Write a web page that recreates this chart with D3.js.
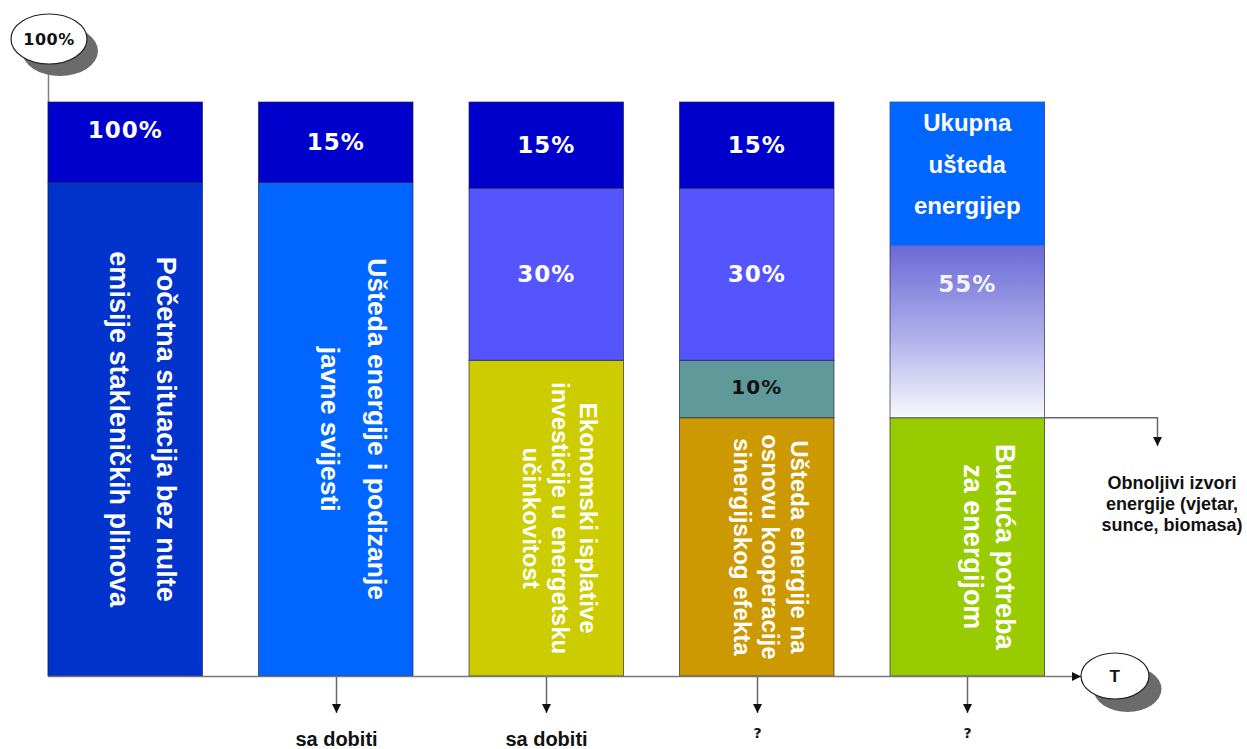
<!DOCTYPE html>
<html>
<head>
<meta charset="utf-8">
<script src="https://cdn.jsdelivr.net/npm/d3@7"></script>
<style>
  body { margin: 0; background: #ffffff; }
  svg { display: block; }
</style>
</head>
<body>
<svg id="chart" width="1247" height="749"></svg>
<script>
// Stages on the way to a zero-emission energy system
const stages = ["Početna situacija", "Javna svijest", "Isplative investicije", "Sinergijski efekt", "Obnovljivi izvori"];

// Stacked shares per stage, bottom to top, in % of the starting demand
const baseShare      = [86, 86, 55, 45, 45];
const synergyShare   = [0, 0, 0, 10, 0];
const investShare    = [0, 0, 30, 30, 0];
const awarenessShare = [14, 14, 15, 15, 0];
const savingsShare   = [0, 0, 0, 0, 55];
const savingsTitleShare = 25;   // upper part of the savings column that carries its title

// Labels written on the segments
const awarenessLabels = ["100%", "15%", "15%", "15%", null];
const investLabels    = [null, null, "30%", "30%", null];
const synergyLabels   = [null, null, null, "10%", null];
const savingsLabels   = [null, null, null, null, "55%"];

const baseTexts = [
  ["Početna situacija bez nulte", "emisije stakleničkih plinova"],
  ["Ušteda energije i podizanje", "javne svijesti"],
  ["Ekonomski isplative", "investicije u energetsku", "učinkovitost"],
  ["Ušteda energije na", "osnovu kooperacije", "sinergijskog efekta"],
  ["Buduća potreba", "za energijom"]
];
const savingsTitle   = ["Ukupna", "ušteda", "energijep"];
const outcomeLabels  = [null, "sa dobiti", "sa dobiti", "?", "?"];
const renewableNote  = ["Obnoljivi izvori", "energije (vjetar,", "sunce, biomasa)"];
const startLabel = "100%";
const timeLabel  = "T";

// ---- styling ----
const baseColors = ["#0033CC", "#0066FF", "#CCCC00", "#CC9900", "#99CC00"];
const segColors = { synergy: "#5F9999", invest: "#5555FF", awareness: "#0000CC" };
const baseTextStyle = [
  { size: 27, lh: 47, shift: 32 },
  { size: 26.5, lh: 47, shift: 32 },
  { size: 24, lh: 28.5, shift: 34 },
  { size: 24, lh: 28.5, shift: 34 },
  { size: 27, lh: 32, shift: 28.5 }
];
const awarenessNudge = [-12, 0, 0, 0, 0];
const ARIAL = "'Liberation Sans', Arial, sans-serif";
const VERDANA = "'DejaVu Sans', Verdana, sans-serif";

const svg = d3.select("#chart");

const x = d3.scaleBand().domain(stages).range([48, 1044.5]).paddingInner(0.266).paddingOuter(0);
const y = d3.scaleLinear().domain([0, 100]).range([676, 102]);
const bw = x.bandwidth();

const rows = stages.map((s, i) => ({
  stage: s, i,
  base: baseShare[i], synergy: synergyShare[i], invest: investShare[i],
  awareness: awarenessShare[i], savings: savingsShare[i]
}));
const keys = ["base", "synergy", "invest", "awareness", "savings"];
const series = d3.stack().keys(keys)(rows);

// defs: arrow marker and savings gradient
const defs = svg.append("defs");
defs.append("marker")
  .attr("id", "arrow").attr("viewBox", "0 0 10 10")
  .attr("markerUnits", "userSpaceOnUse")
  .attr("markerWidth", 9).attr("markerHeight", 10)
  .attr("refX", 10).attr("refY", 5).attr("orient", "auto")
  .append("path").attr("d", "M0,0 L10,5 L0,10 Z").attr("fill", "#111");

const savingsTop = savingsShare[4] + baseShare[4] - savingsTitleShare;
const grad = defs.append("linearGradient")
  .attr("id", "savingsGrad").attr("gradientUnits", "userSpaceOnUse")
  .attr("x1", 0).attr("x2", 0)
  .attr("y1", y(savingsTop)).attr("y2", y(baseShare[4]));
grad.append("stop").attr("offset", 0).attr("stop-color", "#6A6AD6");
grad.append("stop").attr("offset", 0.5).attr("stop-color", "#ABABEA");
grad.append("stop").attr("offset", 1).attr("stop-color", "#F8F8FC");

// vertical guide from the start marker down to the time axis
svg.append("line")
  .attr("x1", 48.5).attr("x2", 48.5).attr("y1", 60).attr("y2", 676)
  .attr("stroke", "#808080").attr("stroke-width", 1.5);

// stacked segments
const layer = svg.append("g");
series.forEach(s => {
  layer.selectAll(null)
    .data(s.filter(d => d[1] - d[0] > 0))
    .join("rect")
    .attr("x", d => x(d.data.stage))
    .attr("y", d => y(d[1]))
    .attr("width", bw)
    .attr("height", d => y(d[0]) - y(d[1]))
    .attr("fill", d => s.key === "base" ? baseColors[d.data.i]
                     : s.key === "savings" ? "url(#savingsGrad)"
                     : segColors[s.key])
    .attr("stroke", "rgba(30,30,60,0.65)")
    .attr("stroke-width", 1);
});

// title block over the top of the savings column
svg.append("rect")
  .attr("x", x(stages[4])).attr("width", bw)
  .attr("y", y(100)).attr("height", y(100 - savingsTitleShare) - y(100))
  .attr("fill", "#0066FF");

// time axis with arrow to the T marker
svg.append("line")
  .attr("x1", 48).attr("x2", 1081).attr("y1", 676.5).attr("y2", 676.5)
  .attr("stroke", "#777").attr("stroke-width", 1.5)
  .attr("marker-end", "url(#arrow)");

// percent labels in the segments
function pctLabel(cx, cy, text, size, color) {
  svg.append("text")
    .attr("x", cx).attr("y", cy + size * 0.36)
    .attr("text-anchor", "middle")
    .attr("font-family", VERDANA).attr("font-weight", "bold")
    .attr("font-size", size).attr("letter-spacing", 1)
    .attr("fill", color).text(text);
}
const seg = key => series.find(s => s.key === key);
stages.forEach((st, i) => {
  const cx = x(st) + bw / 2;
  if (awarenessLabels[i]) {
    const d = seg("awareness")[i];
    pctLabel(cx, (y(d[0]) + y(d[1])) / 2 + awarenessNudge[i], awarenessLabels[i], 23, "#FFFFFF");
  }
  if (investLabels[i]) {
    const d = seg("invest")[i];
    pctLabel(cx, (y(d[0]) + y(d[1])) / 2, investLabels[i], 23, "#FFFFFF");
  }
  if (synergyLabels[i]) {
    const d = seg("synergy")[i];
    pctLabel(cx, (y(d[0]) + y(d[1])) / 2 - 2, synergyLabels[i], 20, "#111111");
  }
  if (savingsLabels[i]) {
    pctLabel(cx, y(savingsTop) + 38, savingsLabels[i], 23, "#F4F4FF");
  }
});

// rotated descriptions inside the base segments
stages.forEach((st, i) => {
  const d = seg("base")[i];
  const cx = x(st) + bw / 2;
  const cy = (y(d[0]) + y(d[1])) / 2;
  const ts = baseTextStyle[i];
  const g = svg.append("g").attr("transform", `translate(${cx + ts.shift},${cy}) rotate(90)`);
  baseTexts[i].forEach((line, k) => {
    g.append("text")
      .attr("x", 0).attr("y", k * ts.lh)
      .attr("text-anchor", "middle")
      .attr("font-family", ARIAL).attr("font-weight", "bold")
      .attr("font-size", ts.size)
      .attr("fill", "#FFFFFF").text(line);
  });
});

// title of the savings column
{
  const cx = x(stages[4]) + bw / 2;
  const cy = (y(100) + y(100 - savingsTitleShare)) / 2;
  savingsTitle.forEach((line, k) => {
    svg.append("text")
      .attr("x", cx).attr("y", cy - 1 + (k - 1) * 41.5)
      .attr("text-anchor", "middle")
      .attr("font-family", ARIAL).attr("font-weight", "bold")
      .attr("font-size", 24).attr("fill", "#FFFFFF").text(line);
  });
}

// outcome arrows below the axis
stages.forEach((st, i) => {
  if (!outcomeLabels[i]) return;
  const cx = Math.round(x(st) + bw / 2) + 0.5;
  svg.append("line")
    .attr("x1", cx).attr("x2", cx).attr("y1", 677).attr("y2", 713)
    .attr("stroke", "#666").attr("stroke-width", 1.5)
    .attr("marker-end", "url(#arrow)");
  const isQ = outcomeLabels[i] === "?";
  svg.append("text")
    .attr("x", cx).attr("y", isQ ? 738 : 746)
    .attr("text-anchor", "middle")
    .attr("font-family", isQ ? VERDANA : ARIAL).attr("font-weight", "bold")
    .attr("font-size", isQ ? 14 : 20).attr("fill", "#111").text(outcomeLabels[i]);
});

// connector from the savings/demand boundary to the renewables note
{
  const x0 = x(stages[4]) + bw;
  const yb = y(baseShare[4]);
  svg.append("path")
    .attr("d", `M${x0},${yb} H1157.5 V446`)
    .attr("fill", "none").attr("stroke", "#666").attr("stroke-width", 1.5)
    .attr("marker-end", "url(#arrow)");
  renewableNote.forEach((line, k) => {
    svg.append("text")
      .attr("x", 1172).attr("y", 489 + k * 21)
      .attr("text-anchor", "middle")
      .attr("font-family", ARIAL).attr("font-weight", "bold")
      .attr("font-size", 18).attr("fill", "#111").text(line);
  });
}

// oval markers with drop shadow
function oval(cx, cy, rx, ry, dx, dy, text, font, size) {
  svg.append("ellipse")
    .attr("cx", cx + dx).attr("cy", cy + dy).attr("rx", rx).attr("ry", ry)
    .attr("fill", "#6B6B6B");
  svg.append("ellipse")
    .attr("cx", cx).attr("cy", cy).attr("rx", rx).attr("ry", ry)
    .attr("fill", "#FFFFFF").attr("stroke", "#222").attr("stroke-width", 1.2);
  svg.append("text")
    .attr("x", cx).attr("y", cy + size * 0.36)
    .attr("text-anchor", "middle")
    .attr("font-family", font).attr("font-weight", "bold")
    .attr("font-size", size).attr("letter-spacing", 0.5)
    .attr("fill", "#111").text(text);
}
oval(49, 39, 38, 25, 11, 12, startLabel, VERDANA, 16);
oval(1115, 676, 34, 23, 12.5, 13, timeLabel, ARIAL, 17);
</script>
</body>
</html>
